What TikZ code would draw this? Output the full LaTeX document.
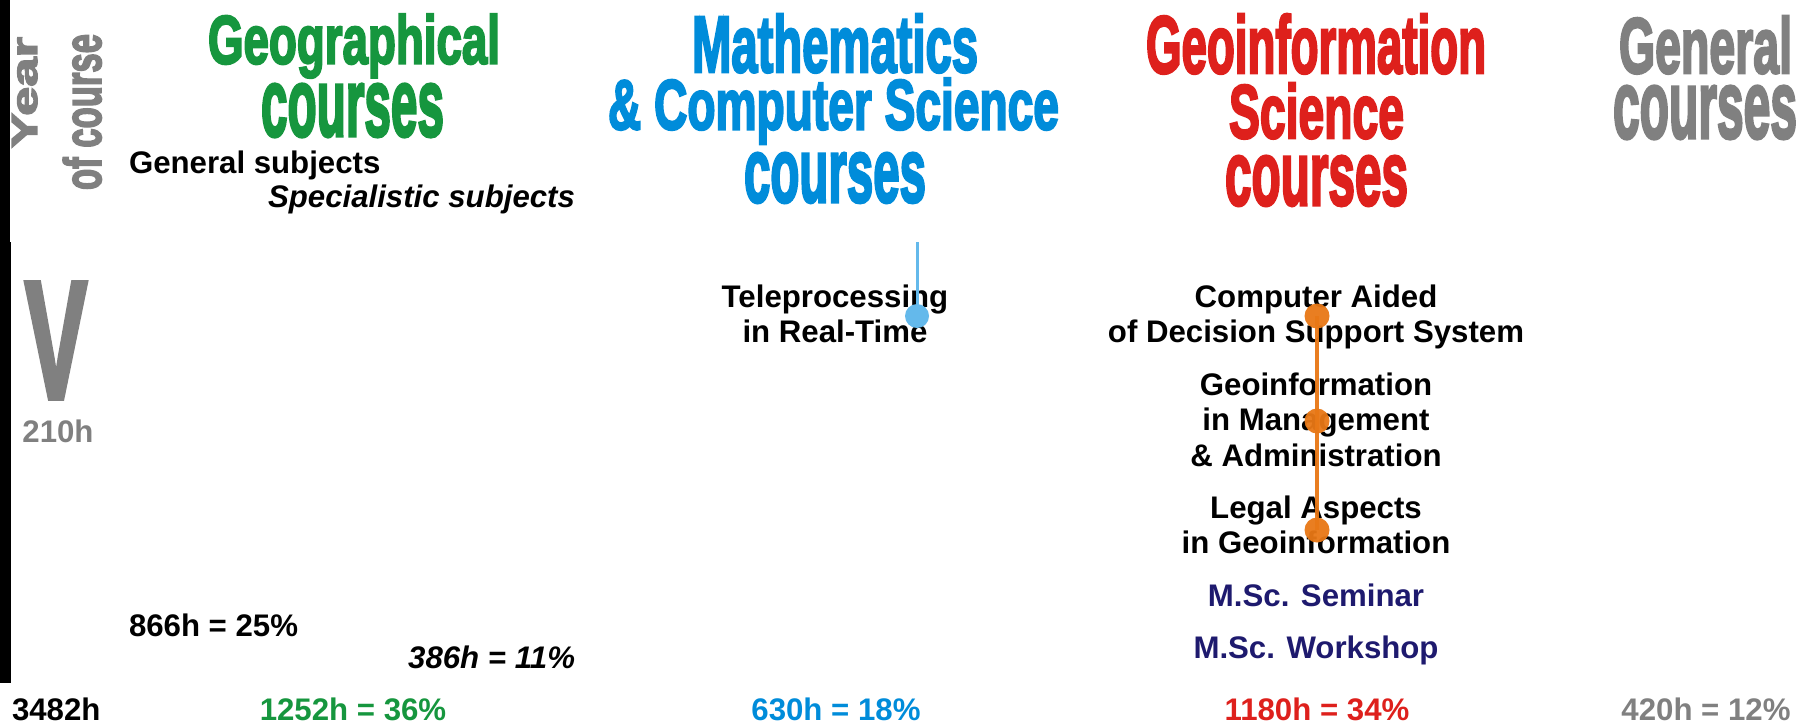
\documentclass[tikz,border=0pt]{standalone}
\usepackage{fontspec}
\usepackage{graphicx}
\setmainfont{Liberation Sans}
\newfontfamily\headfont[FakeBold=3.5]{Liberation Sans Bold}
\definecolor{geogreen}{RGB}{22,150,62}
\definecolor{mathblue}{RGB}{0,140,218}
\definecolor{gisred}{RGB}{222,32,28}
\definecolor{gengrey}{RGB}{128,128,128}
\definecolor{msnavy}{RGB}{30,26,110}
\definecolor{dotorange}{RGB}{232,120,22}
\definecolor{dotblue}{RGB}{100,185,235}
\newcommand{\hdln}[3]{\resizebox{#1pt}{#2pt}{\headfont #3}}
\newcommand{\hdlnt}[3]{\resizebox*{#1pt}{#2pt}{\headfont #3}}
\begin{document}
\begin{tikzpicture}[x=0.5pt,y=-0.5pt,
  hd/.style={inner sep=0pt,outer sep=0pt},
  body/.style={inner sep=0pt,outer sep=0pt,align=center,font=\fontsize{15.6}{17.6}\selectfont\bfseries},
  bline/.style={draw=dotblue,line width=1.5pt},
  oline/.style={draw=dotorange,line width=2pt,opacity=0.95},
  bdotst/.style={circle,fill=dotblue,minimum size=12pt,inner sep=0pt},
  odotst/.style={circle,fill=dotorange,minimum size=12.5pt,inner sep=0pt,opacity=0.95}]
\useasboundingbox (0,0) rectangle (1809,725);
\fill[white] (0,0) rectangle (1809,725);
\fill[black] (0,0) rectangle (9.5,242);
\fill[black] (0,242) rectangle (11,683);
% headings
\node[hd,text=geogreen,anchor=north west] (geo1) at (208,14) {\hdlnt{146}{32}{Geographical}};
\node[hd,text=geogreen,anchor=base west] (geo2) at (261,136) {\hdln{91.5}{26}{courses}};
\node[hd,text=mathblue,anchor=base west] (mat1) at (692,72) {\hdln{143}{29}{Mathematics}};
\node[hd,text=mathblue,anchor=north west] (mat2) at (608,78) {\hdlnt{225.5}{33}{\& Computer Science}};
\node[hd,text=mathblue,anchor=base west] (mat3) at (744,202) {\hdln{91}{24.5}{courses}};
\node[hd,text=gisred,anchor=base west] (gis1) at (1146,73) {\hdln{170}{29.5}{Geoinformation}};
\node[hd,text=gisred,anchor=base west] (gis2) at (1229,138) {\hdln{87.5}{27.5}{Science}};
\node[hd,text=gisred,anchor=base west] (gis3) at (1225,205) {\hdln{91.5}{24.5}{courses}};
\node[hd,text=gengrey,anchor=base west] (gen1) at (1619,73) {\hdln{86.5}{28.5}{General}};
\node[hd,text=gengrey,anchor=base west] (gen2) at (1613,138) {\hdln{92}{26}{courses}};
% year column
\node[hd,text=gengrey,rotate=90,anchor=base west] (year1) at (37,148) {\hdln{55.5}{12.5}{Year}};
\node[hd,text=gengrey,rotate=90,anchor=base west] (year2) at (101,190) {\hdln{78}{19}{of course}};
\node[hd,text=gengrey,anchor=base west] (yearV) at (25,398) {\hdln{31}{57.5}{V}};
\node[body,text=gengrey,anchor=north] (hours5) at (58,420) {210h};
% legend
\node[body,anchor=north west] (gensub) at (129,151) {General subjects};
\node[body,anchor=north east] (specsub) at (575,185) {\itshape Specialistic subjects};
% courses
\node[body,anchor=north] (tele) at (835,285) {Teleprocessing\\in Real-Time};
\node[body,anchor=north] (cads) at (1316,285) {Computer Aided\\of Decision Support System};
\node[body,anchor=north] (gima) at (1316,373) {Geoinformation\\in Management\\\& Administration};
\node[body,anchor=north] (legal) at (1316,496) {Legal Aspects\\in Geoinformation};
\node[body,text=msnavy,anchor=north] (sem) at (1316,584) {M.Sc. Seminar};
\node[body,text=msnavy,anchor=north] (work) at (1316,636) {M.Sc. Workshop};
% totals
\node[body,anchor=north west] (gen866) at (129,614) {866h = 25\%};
\node[body,anchor=north east] (spec386) at (575,646) {\itshape 386h = 11\%};
\node[body,anchor=north west] (total) at (12,698) {3482h};
\node[body,text=geogreen,anchor=north] (totgeo) at (353,698) {1252h = 36\%};
\node[body,text=mathblue,anchor=north] (totmat) at (836,698) {630h = 18\%};
\node[body,text=gisred,anchor=north] (totgis) at (1317,698) {1180h = 34\%};
\node[body,text=gengrey,anchor=north] (totgen) at (1706,698) {420h = 12\%};
% connectors
\coordinate (btop) at (917,242);
\node[bdotst] (bdot) at (917,316) {};
\draw[bline] (btop) -- (bdot.center);
\node[odotst] (od1) at (1317,316) {};
\node[odotst] (od2) at (1317,421) {};
\node[odotst] (od3) at (1317,530) {};
\draw[oline] (od1.center) -- (od2.center) -- (od3.center);
\end{tikzpicture}
\end{document}
